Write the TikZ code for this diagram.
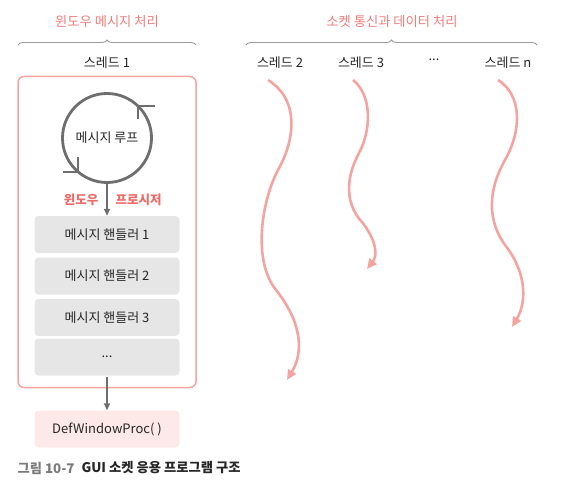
\documentclass[tikz,border=0pt]{standalone}
\usepackage{fontspec}
\setmainfont{Noto Sans CJK KR}
\usetikzlibrary{arrows.meta,decorations.pathreplacing}
\definecolor{pinktxt}{HTML}{F07C78}
\definecolor{pinkbold}{HTML}{EE6A66}
\definecolor{pinkline}{HTML}{F4A4A0}
\definecolor{grayline}{HTML}{6E6E6E}
\definecolor{boxgray}{HTML}{E6E6E6}
\definecolor{boxpink}{HTML}{FDE9E7}
\definecolor{bracegray}{HTML}{9A9A9A}
\definecolor{captiongray}{HTML}{7A7A7A}
\tikzset{
  title/.style={text=pinktxt,font=\fontsize{13.3}{15}\selectfont},
  thread/.style={text=black!85,font=\fontsize{13}{15}\selectfont},
  handler/.style={fill=boxgray,rounded corners=4pt,minimum width=145pt,minimum height=37pt,font=\fontsize{13}{15}\selectfont,text=black!85},
  bracestyle/.style={draw=bracegray,line width=0.9pt,decorate,decoration={brace,amplitude=5pt}},
  wiggle/.style={draw=pinkline,line width=2.6pt,-{Triangle[length=10pt,width=9pt]}},
  grayarrow/.style={draw=grayline,line width=1.6pt,-{Triangle[length=7pt,width=6pt]}}
}
\begin{document}
\begin{tikzpicture}[x=1pt,y=-1pt]
\useasboundingbox (0,0) rectangle (583,492);
% titles and braces
\node[title] (t1) at (107,22) {윈도우 메시지 처리};
\node[title] (t2) at (392,22) {소켓 통신과 데이터 처리};
\coordinate (b1l) at (18,45); \coordinate (b1r) at (196,45);
\coordinate (b2l) at (246,45); \coordinate (b2r) at (537,45);
\draw[bracestyle] (b1l) -- (b1r);
\draw[bracestyle] (b2l) -- (b2r);
% thread labels
\node[thread] (th1) at (107,63) {스레드 1};
\node[thread] (th2) at (280,63) {스레드 2};
\node[thread] (th3) at (361,63) {스레드 3};
\node[thread] (thd) at (434,60) {...};
\node[thread] (thn) at (508,63) {스레드 n};
% frame of thread 1
\node[draw=pinkline,line width=1.5pt,rounded corners=6pt,minimum width=178pt,minimum height=311pt] (frame) at (107,232) {};
% message loop
\node[draw=grayline,line width=2.8pt,circle,minimum size=89pt,inner sep=0pt,font=\fontsize{13}{15}\selectfont,text=black!85] (loop) at (107,138) {메시지 루프};
\coordinate (c1) at (138,106);
\coordinate (c2) at (78,172);
\draw[grayline,line width=2.8pt] ([xshift=17pt]c1) -- (c1) -- ([yshift=-13pt]c1);
\draw[grayline,line width=2.8pt] ([xshift=-15pt]c2) -- (c2) -- ([yshift=15pt]c2);
% handlers
\node[handler] (h1) at (107,234.5) {메시지 핸들러 1};
\node[handler] (h2) at (107,276) {메시지 핸들러 2};
\node[handler] (h3) at (107,317.5) {메시지 핸들러 3};
\node[handler] (h4) at (107,357) {...};
\path (h4.center) ++(0,1.5) coordinate (h4c);
\node[handler,fill=boxpink] (dwp) at (107,429) {DefWindowProc( )};
\draw[grayarrow] (loop.south) -- (h1.north);
\node[text=pinkbold,font=\fontsize{12.5}{14}\bfseries\selectfont,anchor=east] (wp1) at (102,200) {윈도우};
\node[text=pinkbold,font=\fontsize{12.5}{14}\bfseries\selectfont,anchor=west] (wp2) at (112,200) {프로시저};
\draw[grayarrow] ([yshift=-1.5pt]h4.south) -- (dwp.north);
% caption
\node[anchor=west,font=\fontsize{13.3}{15}\bfseries\selectfont,text=captiongray] (cap1) at (14,468) {그림 10-7};
\node[anchor=west,font=\fontsize{13.3}{15}\bfseries\selectfont,text=black!85] (cap2) at (cap1.east) {GUI 소켓 응용 프로그램 구조};
% thread wiggles
\coordinate (s2) at (268,80); \coordinate (e2) at (287,380);
\coordinate (s3) at (353,80); \coordinate (e3) at (367,269);
\coordinate (sn) at (498,80); \coordinate (en) at (512,327);
\draw[wiggle] (s2) .. controls (300,100) and (295,140) .. (278,170)
  .. controls (262,200) and (252,260) .. (276,290)
  .. controls (300,320) and (305,350) .. (e2);
\draw[wiggle] (s3) .. controls (372,95) and (372,130) .. (358,155)
  .. controls (345,180) and (346,205) .. (362,222)
  .. controls (376,240) and (378,255) .. (e3);
\draw[wiggle] (sn) .. controls (522,95) and (522,130) .. (505,160)
  .. controls (488,190) and (487,220) .. (505,245)
  .. controls (525,270) and (528,300) .. (en);
\end{tikzpicture}
\end{document}
